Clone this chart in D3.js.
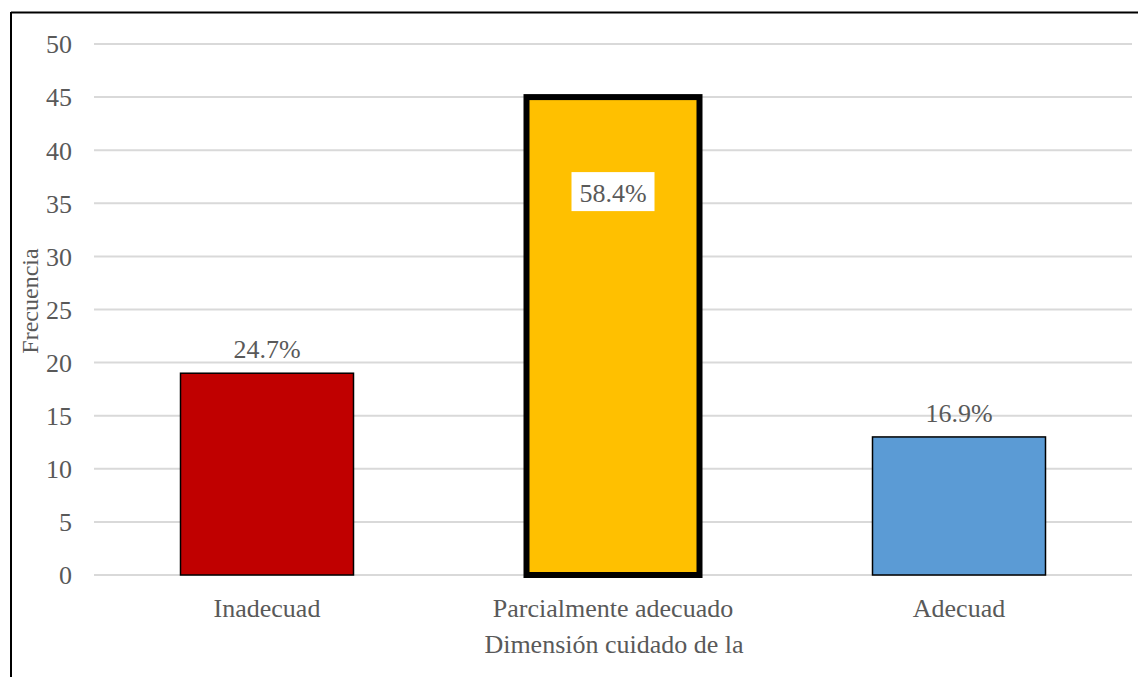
<!DOCTYPE html>
<html>
<head>
<meta charset="utf-8">
<script src="https://cdn.jsdelivr.net/npm/d3@7"></script>
<style>
  html, body { margin: 0; padding: 0; background: #fff; }
  svg text { font-family: "Liberation Serif", "Times New Roman", serif; fill: #595959; }
</style>
</head>
<body>
<svg id="chart" width="1138" height="677"></svg>
<script>
// Frequencies per category, with the percentage labels shown above/inside each bar
const categories = ["Inadecuad", "Parcialmente adecuado", "Adecuad"];
const frequencies = [19, 45, 13];
const percentLabels = ["24.7%", "58.4%", "16.9%"];
const barColors = ["#C00000", "#FFC000", "#5B9BD5"];
const yTicks = [0, 5, 10, 15, 20, 25, 30, 35, 40, 45, 50];

const svg = d3.select("#chart");
const W = 1138, H = 677;
const plot = { left: 94, right: 1132, top: 44, bottom: 575 };
const FONT = 26;

// outer frame: top and left edges
svg.append("line").attr("x1", 11).attr("x2", W).attr("y1", 12.5).attr("y2", 12.5)
  .attr("stroke", "#000").attr("stroke-width", 2);
svg.append("line").attr("x1", 11).attr("x2", 11).attr("y1", 12).attr("y2", H)
  .attr("stroke", "#000").attr("stroke-width", 2);

const x = d3.scaleBand().domain(categories).range([plot.left, plot.right]).paddingInner(0.5).paddingOuter(0.25);
const y = d3.scaleLinear().domain([0, 50]).range([plot.bottom, plot.top]);

// horizontal gridlines
svg.append("g").selectAll("line").data(yTicks).join("line")
  .attr("x1", plot.left).attr("x2", plot.right)
  .attr("y1", d => y(d)).attr("y2", d => y(d))
  .attr("stroke", "#d9d9d9").attr("stroke-width", 2);

// y axis tick labels
const yAxis = d3.axisLeft(y).tickValues(yTicks).tickSize(0).tickPadding(0);
const gy = svg.append("g").attr("transform", `translate(72,0)`).call(yAxis);
gy.select(".domain").remove();
gy.selectAll("text").attr("font-size", FONT).style("font-family", "Liberation Serif").attr("fill", "#595959").attr("dy", "0.34em");

// bars
const data = categories.map((c, i) => ({ c, v: frequencies[i], lab: percentLabels[i], col: barColors[i], i }));
svg.append("g").selectAll("rect").data(data).join("rect")
  .attr("x", d => x(d.c))
  .attr("y", d => y(d.v))
  .attr("width", x.bandwidth())
  .attr("height", d => y(0) - y(d.v))
  .attr("fill", d => d.col)
  .attr("stroke", "#000")
  .attr("stroke-width", d => d.i === 1 ? 6 : 1.5);

// value labels
data.forEach(d => {
  const cx = x(d.c) + x.bandwidth() / 2;
  if (d.i === 1) {
    const base = y(d.v) + 105;
    svg.append("rect").attr("x", cx - 41.5).attr("y", base - 30).attr("width", 83).attr("height", 39).attr("fill", "#fff");
    svg.append("text").attr("x", cx).attr("y", base).attr("text-anchor", "middle")
      .attr("font-size", FONT).attr("fill", "#404040").text(d.lab);
  } else {
    svg.append("text").attr("x", cx).attr("y", y(d.v) - 15).attr("text-anchor", "middle")
      .attr("font-size", FONT).attr("fill", "#404040").text(d.lab);
  }
});

// category labels
const xAxis = d3.axisBottom(x).tickSize(0).tickPadding(0);
const gx = svg.append("g").attr("transform", `translate(0,${plot.bottom})`).call(xAxis);
gx.select(".domain").remove();
gx.selectAll("text").attr("font-size", FONT).style("font-family", "Liberation Serif").attr("fill", "#595959").attr("dy", null).attr("y", 42);

// axis titles
svg.append("text").attr("x", 614).attr("y", 653).attr("text-anchor", "middle")
  .attr("font-size", FONT).text("Dimensión cuidado de la");
svg.append("text").attr("transform", "translate(38,301) rotate(-90)").attr("text-anchor", "middle")
  .attr("font-size", 24).text("Frecuencia");
</script>
</body>
</html>
